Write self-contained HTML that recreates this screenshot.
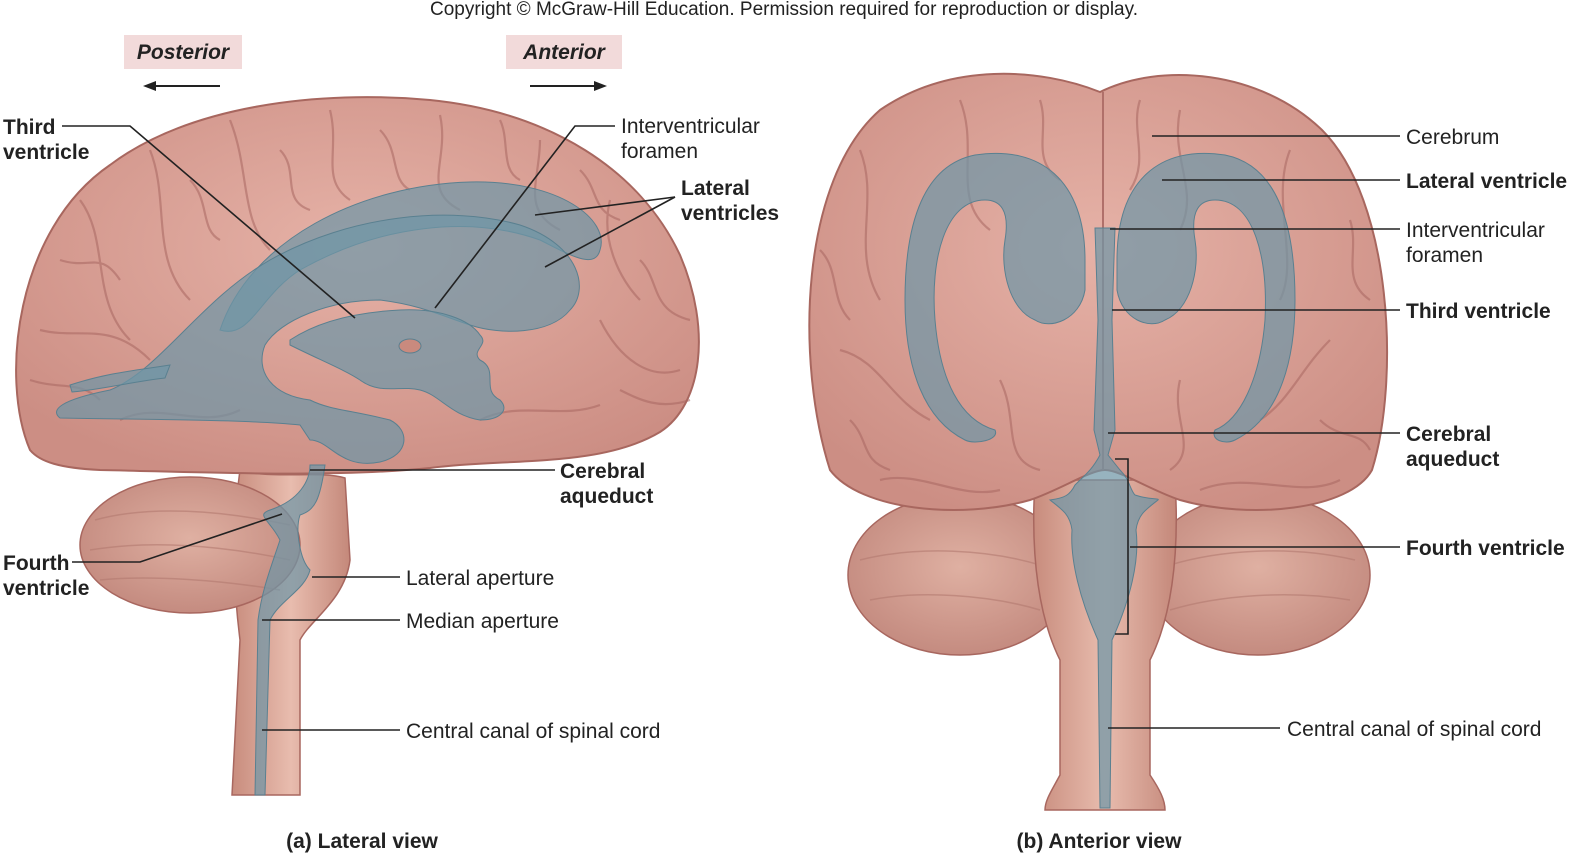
<!DOCTYPE html>
<html><head><meta charset="utf-8"><style>
html,body{margin:0;padding:0;background:#fff;width:1575px;height:859px;overflow:hidden}
svg{display:block}
text{font-family:"Liberation Sans",sans-serif;fill:#222}
.b{font-weight:bold}
.l{stroke:#222;stroke-width:1.6;fill:none}
</style></head><body>
<svg width="1575" height="859" viewBox="0 0 1575 859" xmlns="http://www.w3.org/2000/svg">
<defs>
<radialGradient id="br" cx="50%" cy="40%" r="65%"><stop offset="0" stop-color="#e6b2a7"/><stop offset="1" stop-color="#cc8e84"/></radialGradient>
<radialGradient id="cb" cx="50%" cy="45%" r="60%"><stop offset="0" stop-color="#dfb0a2"/><stop offset="1" stop-color="#c2887d"/></radialGradient>
<linearGradient id="bs" x1="0" x2="1"><stop offset="0" stop-color="#c88c7d"/><stop offset=".5" stop-color="#e8bcae"/><stop offset="1" stop-color="#c4887a"/></linearGradient>
</defs>
<text x="784" y="15" font-size="19" text-anchor="middle" fill="#333" textLength="708">Copyright © McGraw-Hill Education. Permission required for reproduction or display.</text>

<rect x="124" y="35" width="118" height="34" fill="#f2dada"/>
<text x="183" y="59" font-size="21" class="b" font-style="italic" text-anchor="middle">Posterior</text>
<rect x="506" y="35" width="116" height="34" fill="#f2dada"/>
<text x="564" y="59" font-size="21" class="b" font-style="italic" text-anchor="middle">Anterior</text>
<line x1="220" y1="86" x2="152" y2="86" stroke="#222" stroke-width="2"/>
<polygon points="143,86 156,81 156,91" fill="#222"/>
<line x1="530" y1="86" x2="598" y2="86" stroke="#222" stroke-width="2"/>
<polygon points="607,86 594,81 594,91" fill="#222"/>

<!-- LATERAL VIEW -->
<path d="M240,470 C270,480 320,470 345,478 L350,560 C345,600 310,620 300,640 L300,795 L232,795 L240,640 C235,600 230,540 240,470Z" fill="url(#bs)" stroke="#a8675f" stroke-width="1.5"/>
<ellipse cx="190" cy="545" rx="110" ry="68" fill="url(#cb)" stroke="#a8675f" stroke-width="1.5"/>
<g stroke="#b27a70" stroke-width="1.5" fill="none" opacity=".6">
<path d="M95,520 C150,505 220,510 290,525 M90,550 C150,540 220,545 290,560 M100,580 C150,575 220,580 280,590"/>
</g>
<path d="M30,450 C0,380 15,230 110,165 C190,105 320,90 430,100 C550,112 640,170 680,255 C712,330 702,405 660,432 C600,468 505,458 430,468 C330,478 200,472 100,470 C60,468 40,462 30,450Z" fill="url(#br)" stroke="#a8675f" stroke-width="2"/>
<g stroke="#a86660" stroke-width="2.2" fill="none" opacity=".55">
<path d="M80,200 C110,240 90,300 130,340 M150,150 C170,200 150,260 190,300 M230,120 C250,170 240,220 270,250 M330,110 C340,150 320,180 350,200 M440,115 C450,160 420,190 460,210 M540,140 C540,180 520,210 560,230 M610,200 C600,240 620,280 640,300 M40,330 C80,340 110,320 150,360 M600,320 C620,360 650,380 680,370 M120,420 C160,400 200,430 240,410 M480,420 C520,400 560,420 600,405 M60,260 C90,270 100,250 120,280 M190,180 C210,200 200,230 220,240 M280,150 C300,170 280,200 310,210 M380,130 C400,150 390,180 410,190 M500,120 C510,140 500,170 520,180 M580,170 C600,190 590,210 620,220 M640,260 C660,280 650,310 690,320 M30,380 C60,390 80,380 100,400 M620,390 C640,400 660,410 690,400"/>
</g>
<g fill="#6f96a6" fill-opacity=".72" stroke="#5a8090" stroke-width="1">
<path d="M220,330 C250,240 360,185 470,182 C560,180 610,220 600,250 C595,270 570,255 540,240 C470,215 380,225 300,270 C260,295 250,340 220,330Z"/>
<path d="M110,390 C160,370 200,300 270,260 C350,215 450,205 520,225 C580,245 590,290 570,310 C550,335 500,335 470,325 C440,315 420,305 380,300 C330,300 280,320 265,345 C255,370 270,395 310,400 C330,410 350,410 390,420 C410,430 410,455 380,462 C340,470 330,440 310,440 L300,425 C250,420 180,420 60,418 C50,410 60,400 110,390Z"/>
<path d="M70,385 C110,372 140,370 170,365 L165,378 C130,382 100,390 72,392Z"/>
<path d="M290,340 C320,320 360,312 400,310 C440,308 470,320 480,335 C490,345 470,350 480,360 C500,370 480,390 500,400 C510,410 500,420 480,420 C450,415 440,395 420,390 C400,385 380,395 360,380 C345,370 320,360 290,345Z"/>
<path d="M310,465 L325,465 C320,500 315,510 300,515 C295,530 300,560 310,570 C305,590 280,600 270,620 L265,795 L255,795 L258,620 C262,590 270,570 280,540 C270,520 255,515 270,510 C300,500 310,480 310,465Z"/>
</g>
<ellipse cx="410" cy="346" rx="11" ry="7" fill="#c98a7e" stroke="#5a8090"/>
<polyline class="l" points="62,126 130,126 355,318"/>
<polyline class="l" points="615,126 575,126 435,308"/>
<polyline class="l" points="675,197 535,215"/>
<polyline class="l" points="675,197 545,267"/>
<polyline class="l" points="555,470 310,470"/>
<polyline class="l" points="72,562 140,562 282,514"/>
<polyline class="l" points="400,577 312,577"/>
<polyline class="l" points="400,620 262,620"/>
<polyline class="l" points="400,730 262,730"/>
<g font-size="21">
<text x="3" y="134" class="b">Third</text>
<text x="3" y="159" class="b">ventricle</text>
<text x="621" y="133">Interventricular</text>
<text x="621" y="158">foramen</text>
<text x="681" y="195" class="b">Lateral</text>
<text x="681" y="220" class="b">ventricles</text>
<text x="560" y="478" class="b">Cerebral</text>
<text x="560" y="503" class="b">aqueduct</text>
<text x="3" y="570" class="b">Fourth</text>
<text x="3" y="595" class="b">ventricle</text>
<text x="406" y="585">Lateral aperture</text>
<text x="406" y="628">Median aperture</text>
<text x="406" y="738">Central canal of spinal cord</text>
<text x="362" y="848" class="b" text-anchor="middle">(a) Lateral view</text>
</g>

<!-- ANTERIOR VIEW -->
<ellipse cx="960" cy="575" rx="112" ry="80" fill="url(#cb)" stroke="#a8675f" stroke-width="1.5"/>
<ellipse cx="1258" cy="575" rx="112" ry="80" fill="url(#cb)" stroke="#a8675f" stroke-width="1.5"/>
<g stroke="#b27a70" stroke-width="1.5" fill="none" opacity=".6">
<path d="M860,560 C920,545 990,550 1040,565 M870,600 C920,590 990,595 1040,610 M1170,565 C1220,550 1290,545 1355,560 M1170,610 C1220,595 1290,590 1350,600"/>
</g>
<path d="M1035,480 L1175,480 C1180,560 1170,620 1150,660 L1150,775 C1160,790 1165,800 1165,810 L1045,810 C1045,800 1052,790 1060,775 L1060,660 C1040,620 1030,560 1035,480Z" fill="url(#bs)" stroke="#a8675f" stroke-width="1.5"/>
<path d="M830,470 C795,360 800,180 880,110 C950,62 1040,68 1100,92 C1160,62 1260,70 1322,130 C1392,200 1400,380 1372,470 C1350,510 1250,520 1180,500 C1150,490 1120,470 1105,470 C1090,470 1060,490 1030,500 C960,520 860,510 830,470Z" fill="url(#br)" stroke="#a8675f" stroke-width="2"/>
<line x1="1103" y1="92" x2="1103" y2="470" stroke="#b0706a" stroke-width="2"/>
<g stroke="#a86660" stroke-width="2.2" fill="none" opacity=".55">
<path d="M860,150 C880,200 850,250 880,300 M960,100 C980,150 950,200 990,230 M1180,110 C1170,160 1200,190 1180,230 M1290,150 C1270,200 1300,260 1280,300 M840,350 C880,360 890,400 930,420 M1330,340 C1300,370 1290,400 1260,420 M1000,380 C1020,420 1000,460 1040,470 M1180,380 C1170,420 1200,450 1170,470 M880,480 C920,470 960,500 1000,490 M1200,490 C1250,470 1300,500 1340,480 M820,250 C840,270 830,300 850,320 M1040,100 C1050,130 1030,160 1060,180 M1140,100 C1130,130 1150,160 1130,190 M1350,220 C1360,250 1340,280 1370,300 M850,420 C870,440 860,460 890,470 M1320,420 C1340,440 1360,430 1370,450"/>
</g>
<g fill="#6f96a6" fill-opacity=".72" stroke="#5a8090" stroke-width="1">
<path d="M975,155 C1040,145 1085,180 1085,260 L1085,290 C1080,320 1050,330 1035,320 C1010,310 1000,270 1005,240 C1010,210 1000,200 985,200 C945,200 930,260 935,320 C940,380 960,420 995,430 C1000,440 975,445 965,440 C925,420 905,370 905,300 C905,220 925,165 975,155Z"/>
<path d="M1225,155 C1160,145 1117,180 1117,260 L1117,290 C1122,320 1150,330 1165,320 C1190,310 1200,270 1195,240 C1190,210 1200,200 1215,200 C1255,200 1268,260 1265,320 C1260,380 1240,420 1215,430 C1210,440 1225,445 1235,440 C1275,420 1295,370 1295,300 C1295,220 1275,165 1225,155Z"/>
<path d="M1095,228 L1115,228 L1112,320 L1115,430 L1108,455 L1120,470 C1130,480 1130,490 1135,495 C1150,500 1160,498 1158,500 C1145,510 1138,515 1136,530 C1140,560 1130,600 1112,640 L1110,808 L1100,808 L1098,640 C1080,600 1070,560 1072,530 C1070,515 1063,510 1050,500 C1065,498 1070,495 1075,485 C1085,475 1092,470 1100,455 L1094,430 L1098,320Z"/>
</g>
<polyline class="l" points="1400,136 1152,136"/>
<polyline class="l" points="1400,180 1162,180"/>
<polyline class="l" points="1400,229 1110,229"/>
<polyline class="l" points="1400,310 1112,310"/>
<polyline class="l" points="1400,433 1108,433"/>
<polyline class="l" points="1115,459 1128,459 1128,634 1115,634"/>
<polyline class="l" points="1400,547 1130,547"/>
<polyline class="l" points="1280,728 1108,728"/>
<g font-size="21">
<text x="1406" y="144">Cerebrum</text>
<text x="1406" y="188" class="b">Lateral ventricle</text>
<text x="1406" y="237">Interventricular</text>
<text x="1406" y="262">foramen</text>
<text x="1406" y="318" class="b">Third ventricle</text>
<text x="1406" y="441" class="b">Cerebral</text>
<text x="1406" y="466" class="b">aqueduct</text>
<text x="1406" y="555" class="b">Fourth ventricle</text>
<text x="1287" y="736">Central canal of spinal cord</text>
<text x="1099" y="848" class="b" text-anchor="middle">(b) Anterior view</text>
</g>
</svg>
</body></html>
